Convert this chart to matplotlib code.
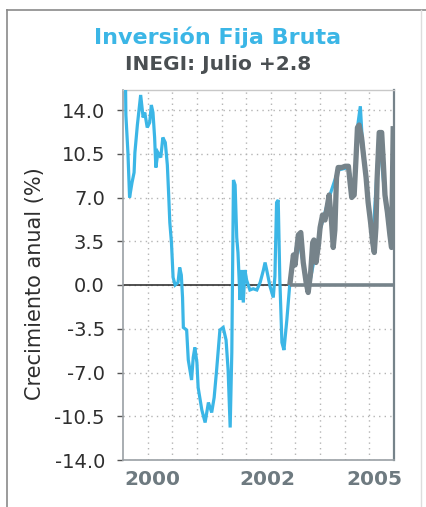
import numpy as np
import matplotlib
matplotlib.use("Agg")
import matplotlib.pyplot as plt
from matplotlib.ticker import FixedLocator

# ---------------- data ----------------
title = "Inversión Fija Bruta"
subtitle = "INEGI: Julio +2.8"
ylabel = "Crecimiento anual (%)"

blue_x = [1999.06, 1999.07, 1999.12, 1999.16, 1999.22, 1999.27, 1999.29, 1999.35, 1999.43, 1999.49,
          1999.53, 1999.59, 1999.65, 1999.69, 1999.73, 1999.77, 1999.80, 1999.85, 1999.92, 1999.97,
          2000.03, 2000.08, 2000.11, 2000.14, 2000.18, 2000.22, 2000.27, 2000.34, 2000.38, 2000.42,
          2000.45, 2000.47, 2000.55, 2000.59, 2000.67, 2000.71, 2000.75, 2000.80, 2000.83, 2000.92,
          2001.00, 2001.08, 2001.16, 2001.22, 2001.28, 2001.36, 2001.44, 2001.51, 2001.56, 2001.61,
          2001.65, 2001.69, 2001.73, 2001.77, 2001.80, 2001.85, 2001.89, 2001.93, 2001.97, 2002.01,
          2002.09, 2002.17, 2002.26, 2002.34, 2002.42, 2002.46, 2002.50, 2002.58, 2002.66, 2002.70,
          2002.74, 2002.78, 2002.82, 2002.87, 2002.92, 2002.99, 2003.07,
          2003.27, 2003.51, 2003.80, 2004.02, 2004.24, 2004.49, 2004.63, 2004.71, 2004.78, 2004.82,
          2004.92, 2005.08, 2005.24, 2005.38, 2005.50]
blue_y = [16.5, 13.6, 10.6, 7.0, 8.2, 9.0, 10.6, 12.8, 15.2, 13.4,
          13.8, 12.6, 13.0, 14.4, 13.8, 11.8, 9.4, 10.6, 10.2, 11.8,
          11.4, 9.6, 7.4, 5.0, 3.4, 0.6, 0.0, 0.2, 1.4, 0.8,
          -1.0, -3.4, -3.6, -6.0, -7.6, -5.8, -5.0, -6.2, -8.2, -10.0,
          -11.0, -9.4, -10.2, -9.0, -6.8, -3.6, -3.4, -4.4, -6.8, -11.4,
          -5.4, 8.4, 8.0, 3.8, 2.6, -1.2, 1.2, -1.4, 1.2, 0.4,
          -0.4, -0.3, -0.4, 0.2, 1.2, 1.8, 1.2, -0.1, -1.0, 0.7,
          6.6, 6.8, 0.4, -4.6, -5.2, -2.8, 0.4,
          3.8, -0.4, 4.4, 7.0, 9.2, 9.4, 7.2, 12.6, 14.3, 12.0,
          8.6, 3.4, 12.0, 7.0, 4.0]

gray_x = [2003.07, 2003.15, 2003.19, 2003.27, 2003.33, 2003.39, 2003.46, 2003.51, 2003.57, 2003.62,
          2003.65, 2003.70, 2003.76, 2003.80, 2003.86, 2003.92, 2003.98, 2004.02, 2004.08, 2004.12,
          2004.16, 2004.20, 2004.24, 2004.33, 2004.41, 2004.49, 2004.53, 2004.57, 2004.63, 2004.67,
          2004.71, 2004.75, 2004.81, 2004.85, 2004.92, 2004.97, 2005.03, 2005.08, 2005.12, 2005.16,
          2005.19, 2005.24, 2005.30, 2005.34, 2005.38, 2005.44, 2005.50, 2005.54, 2005.58]
gray_y = [0.2, 2.4, 1.6, 4.0, 4.2, 1.8, 0.2, -0.6, 1.0, 3.4,
          3.6, 1.8, 3.2, 4.6, 5.6, 5.2, 6.4, 7.2, 5.0, 3.0,
          4.4, 8.6, 9.4, 9.4, 9.5, 9.5, 8.2, 7.0, 7.2, 9.8,
          12.6, 12.8, 11.8, 10.6, 8.6, 6.6, 5.0, 3.4, 2.6, 4.6,
          8.6, 12.2, 12.2, 9.8, 7.2, 5.8, 4.0, 3.0, 12.5]

y_ticks = [14.0, 10.5, 7.0, 3.5, 0.0, -3.5, -7.0, -10.5, -14.0]
x_tick_pos = [1999.71, 2002.51, 2005.11]
x_tick_labels = ["2000", "2002", "2005"]
x_range = (1999.0, 2005.6)
y_range = (-14.0, 15.6)

# ---------------- style ----------------
BLUE = "#3bb6e6"
GRAY = "#76838a"

fig = plt.figure(figsize=(4.26, 5.07), dpi=100)
ax = fig.add_axes([123/426, 1-460/507, 271/426, 370/507])

ax.set_xlim(*x_range)
ax.set_ylim(*y_range)

# grid
ax.set_yticks(y_ticks)
ax.set_yticklabels([f"{v:.1f}" for v in y_ticks])
ax.xaxis.set_minor_locator(FixedLocator(np.linspace(x_range[0], x_range[1], 12)[1:-1]))
ax.set_xticks(x_tick_pos)
ax.set_xticklabels(x_tick_labels)
ax.grid(axis="y", which="major", linestyle=(0, (1, 3)), color="#b4b4b4", linewidth=1.0)
ax.grid(axis="x", which="minor", linestyle=(0, (1, 3)), color="#b4b4b4", linewidth=1.0)
ax.grid(axis="x", which="major", visible=False)

# zero line
ax.axhline(0, color="#333333", linewidth=1.2, zorder=2)
ax.hlines(0, gray_x[0], x_range[1], color=GRAY, linewidth=2.6, zorder=4)

ax.plot(blue_x, blue_y, color=BLUE, linewidth=2.3, zorder=3, solid_joinstyle="miter")
ax.plot(gray_x, gray_y, color=GRAY, linewidth=3.8, zorder=4)

for s in ["left", "bottom"]:
    ax.spines[s].set_color("#9aa0a4")
    ax.spines[s].set_linewidth(1.2)
ax.spines["right"].set_color(GRAY)
ax.spines["right"].set_linewidth(1.6)
ax.spines["top"].set_color("#c8c8c8")
ax.spines["top"].set_linewidth(1.0)

ax.tick_params(axis="y", which="major", length=4, width=1, color="#555555",
               pad=9, labelsize=14, labelcolor="#2e2e2e")
ax.tick_params(axis="x", which="major", length=0, pad=7, labelsize=14.5, labelcolor="#6e7a80")
ax.tick_params(axis="x", which="minor", length=0)
for lab in ax.get_xticklabels():
    lab.set_fontweight("bold")

fig.text(35/426, 1-284/507, ylabel, rotation=90, ha="center", va="center",
         fontsize=15, color="#2e2e2e")
fig.text(218/426, 1-37/507, title, ha="center", va="center",
         fontsize=16, fontweight="bold", color=BLUE)
fig.text(218/426, 1-64/507, subtitle, ha="center", va="center",
         fontsize=14.5, fontweight="bold", color="#4a4f52")

# outer frame
frame_col = "#8a8a8a"
fig.add_artist(plt.Line2D([7/426, 7/426], [0, 1-10/507], transform=fig.transFigure, color=frame_col, lw=1.2))
fig.add_artist(plt.Line2D([7/426, 1], [1-10/507, 1-10/507], transform=fig.transFigure, color=frame_col, lw=1.2))
fig.add_artist(plt.Line2D([421/426, 421/426], [0, 1-10/507], transform=fig.transFigure, color="#dddddd", lw=1.0))

fig.savefig("out.png", dpi=100)
